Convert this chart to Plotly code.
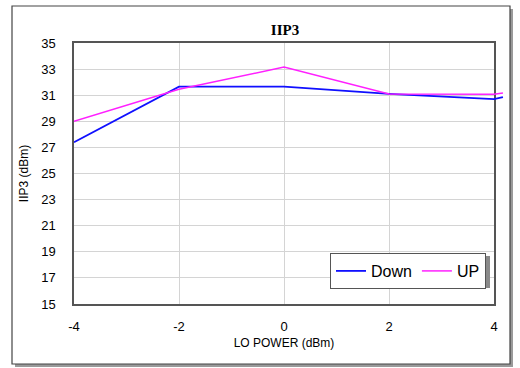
import plotly.graph_objects as go

lo_power = [-4, -2, 0, 2, 4, 4.17]
down_iip3 = [27.4, 31.65, 31.65, 31.1, 30.7, 30.86]
up_iip3 = [29.0, 31.45, 33.15, 31.1, 31.07, 31.17]
x_ticks = [-4, -2, 0, 2, 4]
x_tick_labels = ["-4", "-2", "0", "2", "4"]
y_ticks = [15, 17, 19, 21, 23, 25, 27, 29, 31, 33, 35]

W, H = 520, 368
L, R, T, B = 74, 16, 43, 64
pw, ph = W - L - R, H - T - B
frame_w = 420  # width of the framed grid area in px
x_span = 8.0 * pw / frame_w

def px(x):
    return (x - L) / pw

def py(y):
    return (H - B - y) / ph

fig = go.Figure()
# empty trace to keep the framed grid subplot alive
fig.add_trace(go.Scatter(x=[], y=[], xaxis="x", yaxis="y", showlegend=False, hoverinfo="skip"))
fig.add_trace(go.Scatter(x=lo_power, y=down_iip3, mode="lines", name="Down",
                         xaxis="x2", yaxis="y2",
                         line=dict(color="#1010ff", width=1.8)))
fig.add_trace(go.Scatter(x=lo_power, y=up_iip3, mode="lines", name="UP",
                         xaxis="x2", yaxis="y2",
                         line=dict(color="#ff20ff", width=1.5)))

shapes = [
    dict(type="rect", xref="paper", yref="paper", layer="below",
         x0=px(15), x1=px(513), y0=py(9), y1=py(367),
         fillcolor="#9a9a9a", line=dict(width=0)),
    dict(type="rect", xref="paper", yref="paper", layer="below",
         x0=px(12), x1=px(510), y0=py(6), y1=py(364),
         fillcolor="white", line=dict(color="#444444", width=1.2)),
    dict(type="rect", xref="paper", yref="paper", layer="above",
         x0=px(333), x1=px(490), y0=py(256), y1=py(288),
         fillcolor="#8a8a8a", line=dict(width=0)),
]

fig.update_layout(
    width=W, height=H,
    margin=dict(l=L, r=R, t=T, b=B, autoexpand=False),
    paper_bgcolor="white", plot_bgcolor="rgba(0,0,0,0)",
    font=dict(family="Liberation Sans, Arial, sans-serif", size=12, color="#000000"),
    title=dict(text="<b>IIP3</b>", x=px(285), xref="paper", xanchor="center",
               y=1 - 30 / H, yanchor="middle",
               font=dict(family="Liberation Serif, Times New Roman, serif", size=15, color="#000")),
    xaxis=dict(domain=[0, frame_w / pw], range=[-4, 4], tickvals=x_ticks, ticktext=x_tick_labels,
               showgrid=True, gridcolor="#d4d4d4", tickfont=dict(size=13),
               zeroline=False, showline=True, linecolor="#555555", linewidth=1.5, mirror=True,
               ticks="", ticklabelstandoff=10,
               title=dict(text="LO POWER (dBm)", standoff=5, font=dict(size=12))),
    yaxis=dict(range=[15, 35], tickvals=y_ticks, showgrid=True, gridcolor="#d4d4d4",
               tickfont=dict(size=13),
               zeroline=False, showline=True, linecolor="#555555", linewidth=1.5, mirror=True,
               ticks="", ticklabelstandoff=14,
               title=dict(text="IIP3 (dBm)", standoff=10, font=dict(size=12))),
    xaxis2=dict(domain=[0, 1], range=[-4, -4 + x_span], anchor="y2", visible=False),
    yaxis2=dict(domain=[0, 1], range=[15, 35], anchor="x2", visible=False),
    legend=dict(x=px(330), y=py(253), xanchor="left", yanchor="top",
                orientation="h", bgcolor="white", bordercolor="#555555", borderwidth=1,
                font=dict(size=16), itemwidth=30, tracegroupgap=0),
    shapes=shapes,
    showlegend=True,
)

fig.write_html("out.html", config={"displayModeBar": False},
               post_script="document.body.style.margin='0';")
